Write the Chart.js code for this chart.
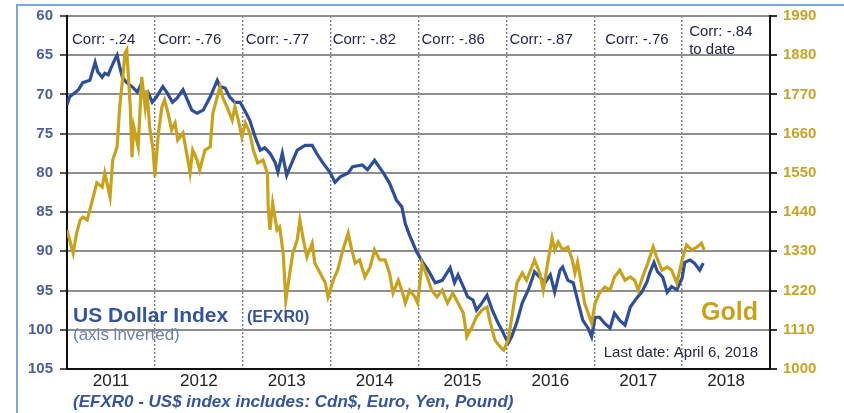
<!DOCTYPE html>
<html>
<head>
<meta charset="utf-8">
<script src="https://cdn.jsdelivr.net/npm/chart.js@4.4.0/dist/chart.umd.min.js"></script>
<style>
  html, body { margin: 0; padding: 0; background: #fff; }
</style>
</head>
<body>
<canvas id="myChart" width="844" height="413"></canvas>
<script>
// axis ticks
const yearTicks = [2011, 2012, 2013, 2014, 2015, 2016, 2017, 2018, 2019];
const dollarTicks = [60, 65, 70, 75, 80, 85, 90, 95, 100, 105];
const goldTicks = [1000, 1110, 1220, 1330, 1440, 1550, 1660, 1770, 1880, 1990];
const corrLabels = ['Corr: -.24', 'Corr: -.76', 'Corr: -.77', 'Corr: -.82', 'Corr: -.86', 'Corr: -.87', 'Corr: -.76', 'Corr: -.84'];

// US Dollar Index (EFXR0)
const dollarYears = [
  2011.00, 2011.03, 2011.09, 2011.13, 2011.18, 2011.26, 2011.32, 2011.35, 2011.40, 2011.43,
  2011.47, 2011.49, 2011.55, 2011.57, 2011.60, 2011.63, 2011.68, 2011.74, 2011.80, 2011.83,
  2011.89, 2011.92, 2011.97, 2012.02, 2012.09, 2012.14, 2012.20, 2012.25, 2012.32, 2012.37,
  2012.42, 2012.48, 2012.55, 2012.63, 2012.71, 2012.74, 2012.80, 2012.85, 2012.91, 2012.97,
  2013.03, 2013.08, 2013.14, 2013.20, 2013.25, 2013.31, 2013.37, 2013.40, 2013.45, 2013.50,
  2013.54, 2013.62, 2013.71, 2013.79, 2013.84, 2013.91, 2013.99, 2014.05, 2014.11, 2014.20,
  2014.25, 2014.36, 2014.42, 2014.50, 2014.60, 2014.67, 2014.75, 2014.81, 2014.85, 2014.90,
  2014.98, 2015.05, 2015.11, 2015.19, 2015.27, 2015.36, 2015.41, 2015.45, 2015.51, 2015.56,
  2015.62, 2015.66, 2015.72, 2015.78, 2015.84, 2015.90, 2015.96, 2016.02, 2016.06, 2016.12,
  2016.18, 2016.25, 2016.30, 2016.32, 2016.38, 2016.44, 2016.50, 2016.55, 2016.61, 2016.64,
  2016.70, 2016.76, 2016.81, 2016.87, 2016.93, 2016.97, 2017.01, 2017.06, 2017.12, 2017.18,
  2017.23, 2017.29, 2017.35, 2017.41, 2017.48, 2017.54, 2017.60, 2017.63, 2017.68, 2017.72,
  2017.78, 2017.83, 2017.88, 2017.94, 2018.00, 2018.03, 2018.09, 2018.14, 2018.20, 2018.24
];
const dollarIndex = [
  71.3, 70.3, 69.8, 69.4, 68.5, 68.2, 65.9, 67.1, 67.8, 67.3,
  67.5, 66.9, 65.4, 65.0, 66.5, 67.8, 68.5, 69.0, 69.7, 69.0,
  70.1, 69.7, 71.0, 70.3, 69.0, 69.8, 71.0, 70.5, 69.4, 70.7,
  72.0, 72.4, 72.0, 70.3, 68.2, 69.0, 69.2, 70.3, 71.0, 71.0,
  72.2, 73.3, 75.4, 77.1, 76.8, 77.5, 78.7, 79.9, 77.5, 80.3,
  79.2, 77.1, 76.5, 76.5, 77.5, 78.7, 79.9, 81.2, 80.5, 80.0,
  79.2, 79.0, 79.6, 78.4, 80.0, 81.3, 83.5, 84.3, 86.5, 88.0,
  90.1, 91.4, 92.4, 94.0, 93.7, 92.1, 94.0, 93.0, 94.5, 95.8,
  96.2, 97.5, 96.6, 95.6, 97.5, 99.0, 100.3, 101.7, 100.9, 99.0,
  96.6, 94.9, 93.3, 92.6, 93.3, 94.0, 93.0, 95.2, 92.4, 92.0,
  93.7, 94.0, 96.2, 98.8, 99.8, 100.9, 98.4, 98.4, 99.2, 99.8,
  97.9, 98.8, 99.4, 97.1, 96.0, 95.2, 93.9, 92.8, 91.4, 92.6,
  93.3, 95.2, 94.5, 94.9, 93.4, 91.4, 91.1, 91.5, 92.4, 91.5
];

// Gold price
const goldYears = [
  2011.00, 2011.03, 2011.07, 2011.11, 2011.15, 2011.18, 2011.23, 2011.28, 2011.34, 2011.40,
  2011.43, 2011.49, 2011.52, 2011.57, 2011.60, 2011.64, 2011.66, 2011.68, 2011.72, 2011.74,
  2011.76, 2011.81, 2011.85, 2011.89, 2011.91, 2011.94, 2011.98, 2012.00, 2012.04, 2012.08,
  2012.11, 2012.15, 2012.19, 2012.23, 2012.26, 2012.32, 2012.37, 2012.40, 2012.43, 2012.48,
  2012.51, 2012.57, 2012.63, 2012.66, 2012.71, 2012.74, 2012.77, 2012.82, 2012.88, 2012.91,
  2012.95, 2012.99, 2013.03, 2013.08, 2013.12, 2013.17, 2013.23, 2013.28, 2013.29, 2013.31,
  2013.34, 2013.39, 2013.42, 2013.46, 2013.49, 2013.54, 2013.57, 2013.62, 2013.65, 2013.69,
  2013.73, 2013.79, 2013.82, 2013.88, 2013.94, 2013.97, 2014.03, 2014.08, 2014.14, 2014.20,
  2014.24, 2014.28, 2014.33, 2014.39, 2014.45, 2014.50, 2014.56, 2014.62, 2014.67, 2014.71,
  2014.77, 2014.81, 2014.85, 2014.90, 2014.96, 2014.99, 2015.04, 2015.10, 2015.15, 2015.21,
  2015.27, 2015.33, 2015.39, 2015.45, 2015.51, 2015.55, 2015.61, 2015.66, 2015.72, 2015.78,
  2015.81, 2015.87, 2015.93, 2015.97, 2016.02, 2016.07, 2016.12, 2016.18, 2016.23, 2016.29,
  2016.32, 2016.38, 2016.42, 2016.47, 2016.52, 2016.55, 2016.59, 2016.64, 2016.70, 2016.75,
  2016.78, 2016.81, 2016.86, 2016.89, 2016.93, 2016.97, 2017.01, 2017.06, 2017.12, 2017.18,
  2017.23, 2017.29, 2017.35, 2017.41, 2017.46, 2017.50, 2017.55, 2017.61, 2017.67, 2017.71,
  2017.77, 2017.83, 2017.88, 2017.94, 2018.00, 2018.05, 2018.11, 2018.17, 2018.22, 2018.25
];
const goldPrice = [
  1390, 1362, 1325, 1381, 1418, 1426, 1418, 1465, 1522, 1510,
  1550, 1482, 1586, 1623, 1735, 1830, 1886, 1895, 1735, 1594,
  1679, 1623, 1819, 1735, 1782, 1679, 1614, 1540, 1662, 1735,
  1754, 1718, 1670, 1690, 1642, 1662, 1594, 1550, 1614, 1586,
  1558, 1614, 1623, 1718, 1763, 1791, 1763, 1735, 1698, 1735,
  1698, 1651, 1690, 1662, 1614, 1578, 1586, 1550, 1454, 1390,
  1465, 1390, 1398, 1325, 1193, 1277, 1325, 1362, 1418, 1362,
  1314, 1353, 1297, 1269, 1241, 1202, 1249, 1277, 1334, 1381,
  1334, 1297, 1306, 1258, 1286, 1334, 1306, 1306, 1269, 1213,
  1249, 1221, 1185, 1221, 1202, 1185, 1297, 1258, 1221, 1202,
  1221, 1185, 1213, 1185, 1157, 1090, 1118, 1146, 1165, 1174,
  1137, 1081, 1062, 1053, 1081, 1157, 1241, 1269, 1249, 1286,
  1306, 1269, 1221, 1297, 1367, 1334, 1356, 1334, 1342, 1306,
  1269, 1300, 1230, 1185, 1157, 1129, 1185, 1213, 1230, 1221,
  1258, 1277, 1249, 1258, 1249, 1221, 1258, 1297, 1342, 1314,
  1277, 1286, 1277, 1241, 1306, 1348, 1334, 1342, 1353, 1334
];

const BLUE = '#2d4e98';
const GOLD = '#c9a21b';
const FONT = "'Liberation Sans', Arial, sans-serif";

Chart.defaults.font.family = FONT;

// text + frame drawn round the plot
const overlay = {
  id: 'overlay',
  beforeDraw(chart) {
    const ctx = chart.ctx;
    ctx.save();
    ctx.fillStyle = '#fff';
    ctx.fillRect(0, 0, chart.width, chart.height);
    ctx.strokeStyle = '#7ba6da';
    ctx.lineWidth = 2;
    ctx.beginPath();
    ctx.moveTo(17, chart.height);
    ctx.lineTo(17, 5);
    ctx.lineTo(chart.width, 5);
    ctx.stroke();
    ctx.restore();
  },
  afterDraw(chart) {
    const ctx = chart.ctx;
    const area = chart.chartArea;
    const xs = chart.scales.x;
    const txt = (s, x, y, font, color, align, maxW) => {
      ctx.font = font;
      ctx.fillStyle = color;
      ctx.textAlign = align || 'left';
      ctx.textBaseline = 'middle';
      if (maxW) ctx.fillText(s, x, y, maxW); else ctx.fillText(s, x, y);
    };
    ctx.save();
    const offs = [5, 3, 3, 2, 3, 3, 11, 7];
    corrLabels.forEach((s, i) => {
      const x = xs.getPixelForValue(yearTicks[i]) + offs[i];
      if (i === corrLabels.length - 1) {
        txt(s, x, area.top + 16, '15px ' + FONT, '#23264a');
        txt('to date', x, area.top + 34, '15px ' + FONT, '#23264a');
      } else {
        txt(s, x, area.top + 24, '15px ' + FONT, '#23264a', 'left', 72);
      }
    });

    const lx = area.left + 6;
    txt('US Dollar Index', lx, area.bottom - 53, 'bold 21px ' + FONT, '#34549c', 'left', 166);
    txt('(EFXR0)', lx + 174, area.bottom - 51, 'bold 16px ' + FONT, '#34549c');
    txt('(axis inverted)', lx, area.bottom - 34, '17px ' + FONT, '#6d80b0', 'left', 118);
    txt('Gold', area.right - 12, area.bottom - 56, 'bold 25px ' + FONT, GOLD, 'right');
    txt('Last date: April 6, 2018', area.right - 12, area.bottom - 16, '15px ' + FONT, '#262840', 'right', 156);
    txt('(EFXR0 - US$ index includes: Cdn$, Euro, Yen, Pound)', lx, chart.height - 11,
        'italic bold 17px ' + FONT, '#34549c', 'left', 486);
    ctx.restore();
  }
};

const ctx = document.getElementById('myChart').getContext('2d');

new Chart(ctx, {
  type: 'line',
  data: {
    datasets: [
      {
        label: 'Gold',
        data: goldYears.map((x, i) => ({ x: x, y: goldPrice[i] })),
        yAxisID: 'y1',
        borderColor: GOLD,
        borderWidth: 3.2,
        pointRadius: 0,
        tension: 0,
        order: 0
      },
      {
        label: 'US Dollar Index',
        data: dollarYears.map((x, i) => ({ x: x, y: dollarIndex[i] })),
        yAxisID: 'y',
        borderColor: BLUE,
        borderWidth: 3.2,
        pointRadius: 0,
        tension: 0,
        order: 1
      }
    ]
  },
  options: {
    responsive: false,
    animation: false,
    layout: { padding: { top: 16, left: 0, right: 0, bottom: 0 } },
    plugins: { legend: { display: false }, tooltip: { enabled: false } },
    scales: {
      x: {
        type: 'linear',
        min: 2011,
        max: 2019,
        afterBuildTicks: s => { s.ticks = yearTicks.map(v => ({ value: v })); },
        afterFit: s => { s.height = 44; },
        ticks: {
          autoSkip: false,
          maxRotation: 0,
          labelOffset: 44,
          padding: 2,
          color: '#222',
          font: { size: 17 },
          callback: v => (v < 2019 ? String(v) : '')
        },
        grid: {
          drawTicks: false,
          lineWidth: 1.4,
          color: c => (c.tick && (c.tick.value === 2011 || c.tick.value === 2019)) ? 'rgba(0,0,0,0)' : '#7a7a7a'
        },
        border: { color: '#111', width: 2, dash: [2, 2] }
      },
      y: {
        type: 'linear',
        position: 'left',
        reverse: true,
        min: 60,
        max: 105,
        afterBuildTicks: s => { s.ticks = dollarTicks.map(v => ({ value: v })); },
        afterFit: s => { s.width = 67; },
        ticks: { padding: 7, color: '#4a5d9c', font: { size: 15, weight: 'bold' }, callback: v => String(v) },
        grid: { color: '#8e8e8e', lineWidth: 2, tickLength: 7, tickColor: '#555' },
        border: { color: '#111', width: 2 }
      },
      y1: {
        type: 'linear',
        position: 'right',
        min: 1000,
        max: 1990,
        afterBuildTicks: s => { s.ticks = goldTicks.map(v => ({ value: v })); },
        afterFit: s => { s.width = 74; },
        ticks: { padding: 6, color: '#c8a324', font: { size: 15, weight: 'bold' }, callback: v => String(v) },
        grid: { drawOnChartArea: false, tickLength: 7, tickColor: '#333', lineWidth: 2 },
        border: { color: '#111', width: 2 }
      }
    }
  },
  plugins: [overlay]
});
</script>
</body>
</html>
